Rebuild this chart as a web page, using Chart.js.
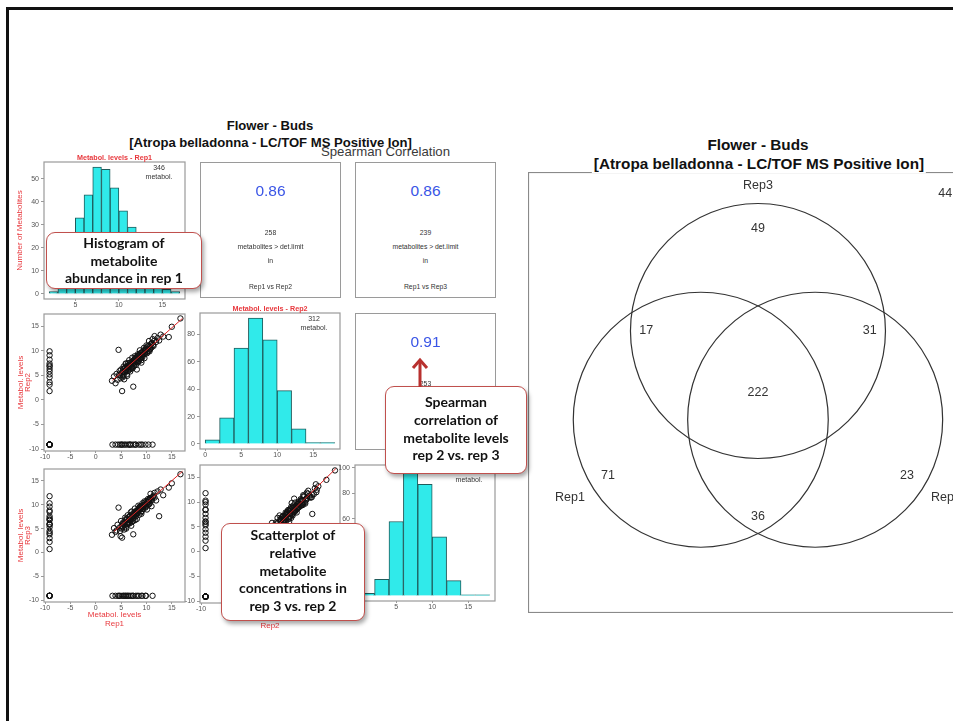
<!DOCTYPE html>
<html>
<head>
<meta charset="utf-8">
<script src="https://cdn.jsdelivr.net/npm/chart.js@4.4.1/dist/chart.umd.min.js"></script>
<style>
html,body{margin:0;padding:0;background:#fff;}
body{width:953px;height:721px;position:relative;overflow:hidden;font-family:"Liberation Sans",Arial,sans-serif;}
canvas{position:absolute;}
.frame{position:absolute;left:6px;top:7px;width:1200px;height:1000px;border-top:3px solid #111;border-left:3px solid #111;}
.ttl{position:absolute;white-space:nowrap;font-weight:bold;color:#111;transform:translate(-50%,-50%);}
.corr{position:absolute;box-sizing:border-box;border:1.2px solid #9a9a9a;}
.corr div{position:absolute;left:0;right:0;text-align:center;transform:translateY(-50%);font-size:6.8px;color:#333;}
.corr .rho{font-size:15.5px;color:#3a55e6;}
.call{position:absolute;box-sizing:border-box;border:1.6px solid #c0504d;border-radius:9px;background:#fff;
  box-shadow:2px 3px 4px rgba(0,0,0,.35);display:flex;align-items:center;justify-content:center;text-align:center;
  font-family:Lato,"Open Sans",sans-serif;font-weight:bold;font-size:14px;line-height:17.7px;color:#111;z-index:5;}
</style>
</head>
<body>
<div class="frame"></div>

<div class="ttl" style="left:270px;top:125px;font-size:13.1px;">Flower - Buds</div>
<div class="ttl" style="left:270.5px;top:141.7px;font-size:13.1px;">[Atropa belladonna - LC/TOF MS Positive Ion]</div>
<div class="ttl" style="left:385.5px;top:150.7px;font-size:13.2px;font-weight:normal;color:#3a3a3a;">Spearman Correlation</div>

<div class="ttl" style="left:758px;top:145px;font-size:15.3px;">Flower - Buds</div>
<div class="ttl" style="left:759px;top:164.3px;font-size:15.3px;background:#fff;padding:0 2px;z-index:2;">[Atropa belladonna - LC/TOF MS Positive Ion]</div>

<div class="call" style="left:45.7px;top:231.7px;width:156.5px;height:57.5px;">Histogram of<br>metabolite<br>abundance in rep 1</div>
<div class="call" style="left:385px;top:386px;width:142px;height:88px;padding-bottom:3px;">Spearman<br>correlation of<br>metabolite levels<br>rep 2 vs. rep 3</div>
<div class="call" style="left:220.7px;top:523px;width:144.5px;height:98px;padding-bottom:3px;">Scatterplot of<br>relative<br>metabolite<br>concentrations in<br>rep 3 vs. rep 2</div>
<svg style="position:absolute;left:410px;top:356px;z-index:6" width="20" height="32">
  <path d="M10,31 L10,6" stroke="#b8312f" stroke-width="3" fill="none"/>
  <path d="M3,12 L10,4 L17,12" stroke="#b8312f" stroke-width="3" fill="none"/>
</svg>

<script>
// ---- data ----
const repNames = ['Rep1', 'Rep2', 'Rep3'];

// histograms: lower bin edges and counts
const binStarts1 = [2, 3, 4, 5, 6, 7, 8, 9, 10, 11, 12, 13, 14, 15, 16];
const binCounts1 = [1, 3, 13, 33, 43, 55, 54, 46, 36, 29, 17, 9, 4, 2, 1];
const binStarts2 = [0, 2, 4, 6, 8, 10, 12, 14, 16];
const binCounts2 = [3, 19, 70, 92, 76, 39, 11, 1, 1];
const binStarts3 = [0, 2, 4, 6, 8, 10, 12, 14, 16];
const binCounts3 = [2, 13, 58, 98, 87, 46, 12, 1, 1];
const histTotals = [346, 312, 318];

// spearman panels
const corrPairs = ['Rep1 vs Rep2', 'Rep1 vs Rep3', 'Rep2 vs Rep3'];
const corrRho = [0.86, 0.86, 0.91];
const corrN = [258, 239, 253];

// metabolite levels [rep1, rep2, rep3], null = below detection limit
const metaboliteLevels = [
  [3.2,3.9,3.7],[3.6,4.8,5.1],[3.9,3.4,4.3],[4.1,5.3,4.6],[4.3,4.1,5.8],[4.5,10.2,9.4],[4.7,5.9,5.2],[4.9,4.4,3.4],
  [5.0,6.2,6.6],[5.2,1.8,3.1],[5.3,5.0,5.5],[5.5,6.8,6.1],[5.6,4.2,4.8],[5.8,5.6,7.3],[5.9,7.4,6.9],[6.0,6.1,5.0],
  [6.2,4.9,5.9],[6.3,7.0,7.8],[6.5,6.4,6.2],[6.6,8.1,7.5],[6.8,5.8,6.6],[6.9,7.3,8.4],[7.0,6.6,5.6],[7.2,8.6,8.0],
  [7.3,7.7,7.1],[7.4,2.7,3.8],[7.5,6.9,7.6],[7.7,8.9,9.2],[7.8,7.9,6.8],[8.0,8.4,8.7],[8.1,6.2,7.0],[8.3,9.3,8.9],
  [8.4,8.0,9.8],[8.6,9.0,7.9],[8.7,10.1,9.6],[8.9,8.7,8.4],[9.0,7.6,8.1],[9.2,9.8,10.3],[9.3,9.2,9.1],[9.5,10.6,9.9],
  [9.6,8.5,10.7],[9.8,10.0,9.4],[10.0,11.1,10.8],[10.1,9.5,9.0],[10.3,10.4,11.2],[10.5,12.0,11.0],[10.6,9.9,10.2],
  [10.8,11.3,12.3],[11.0,10.7,9.7],[11.2,12.4,11.6],[11.4,11.0,11.9],[11.6,13.0,12.5],[11.9,11.8,10.9],[12.2,12.6,12.8],
  [12.5,12.1,7.6],[12.8,13.3,13.2],[13.3,12.9,12.0],[14.4,12.8,13.6],[15.0,14.9,14.5],[16.7,16.6,16.4],
  [5.4,5.7,6.3],[5.7,6.5,5.7],[6.1,5.2,6.8],[6.4,7.5,6.0],[6.7,6.9,7.4],[7.1,7.8,8.6],[7.6,8.2,7.3],[7.9,7.1,8.0],
  [8.2,8.8,8.3],[8.5,7.9,9.0],[8.8,9.5,9.7],[9.1,8.9,8.7],[9.4,9.9,9.3],[9.7,9.4,10.0],[10.2,10.9,10.5],[10.7,10.3,11.4],
  [6.9,6.3,7.0],[7.4,7.5,6.6],[8.0,8.6,8.2],[5.9,6.0,5.3],
  [5.1,5.5,5.0],[5.4,6.3,6.0],[5.8,6.6,6.4],[6.1,6.7,7.1],[6.3,5.9,6.4],[6.6,7.2,6.8],[6.8,7.6,7.7],[7.0,7.0,7.2],
  [7.2,6.8,7.9],[7.4,8.0,7.6],[7.6,7.4,8.3],[7.8,8.5,8.5],[8.0,7.7,7.7],[8.2,8.2,8.9],[8.4,9.1,8.6],[8.6,8.3,9.3],
  [8.8,8.6,9.0],[9.0,9.6,9.4],[9.2,8.7,9.9],[9.4,9.3,9.6],[9.6,10.2,10.4],[9.8,9.7,10.1],[10.0,10.3,9.8],[10.2,9.8,10.6],
  [10.4,11.0,10.9],[10.6,10.8,10.3],[10.8,10.5,11.1],[11.0,11.5,11.3],[11.3,11.2,11.7],[11.6,12.1,11.5],
  [4.8,5.0,4.5],[5.3,4.6,5.3],[6.5,6.0,6.9],[7.1,6.4,6.4],[7.7,8.3,8.0],[8.3,7.6,8.3],[9.1,9.2,9.6],[9.9,10.1,9.6],
  [10.4,10.0,10.5],[11.1,11.6,11.0],[6.2,6.6,6.1],[8.7,9.3,9.1],
  // rep1 & rep2 only
  [4.6,5.1,null],[5.5,4.9,null],[6.4,6.9,null],[7.3,6.5,null],[8.2,8.9,null],[9.0,8.1,null],[9.9,10.5,null],[6.0,7.4,null],
  // rep1 & rep3 only
  [5.1,null,5.6],[6.7,null,6.1],[7.8,null,8.4],[8.9,null,9.5],[10.4,null,10.0],
  // rep2 & rep3 only
  [null,3.6,4.1],[null,5.2,5.8],[null,6.3,7.2],[null,7.4,6.9],[null,8.2,8.8],[null,9.1,9.6],[null,6.8,5.9],
  // rep1 only
  [3.3,null,null],[3.9,null,null],[4.4,null,null],[4.8,null,null],[5.2,null,null],[5.6,null,null],[5.9,null,null],[6.3,null,null],
  [6.7,null,null],[7.0,null,null],[7.4,null,null],[7.9,null,null],[8.5,null,null],[9.2,null,null],[9.8,null,null],[11.2,null,null],
  // rep2 only
  [null,1.8,null],[null,3.1,null],[null,4.6,null],[null,5.8,null],[null,7.0,null],[null,9.9,null],
  // rep3 only
  [null,null,0.7],[null,null,2.2],[null,null,3.0],[null,null,3.8],[null,null,4.5],[null,null,5.3],[null,null,6.0],
  [null,null,6.8],[null,null,7.6],[null,null,8.5],[null,null,10.3],[null,null,11.8]
];

// red fit lines [[x0,y0],[x1,y1]]
const fitRep1Rep2 = [[3.3, 4.0], [17.1, 16.6]];
const fitRep1Rep3 = [[3.6, 4.4], [17.1, 17.0]];
const fitRep2Rep3 = [[3.5, 3.6], [16.8, 16.8]];

// venn diagram
const vennCenterX = [-0.44, 0.44, 0];
const vennCenterY = [-0.23, -0.23, 0.48];
const vennRadius = 1.0;
const vennNameX = [-1.446, 1.446, 0];
const vennNameY = [-0.85, -0.85, 1.64];
const vennCounts = [71, 23, 49, 36, 17, 31, 222, 44];
const vennCountX = [-1.154, 1.146, 0, 0, -0.86, 0.86, 0, 1.44];
const vennCountY = [-0.68, -0.68, 1.30, -1.008, 0.48, 0.48, -0.016, 1.576];

// ---- drawing ----
const FONT = '"Liberation Sans", Arial, sans-serif';
const RED = '#e8383d';
const ND_POS = -9.1;   // plotting position for "not detected"
const M = 12;          // spare margin above/right of each panel

Chart.defaults.font.family = FONT;
Chart.defaults.animation = false;
Chart.defaults.responsive = false;
Chart.defaults.events = [];
Chart.defaults.plugins.legend.display = false;
Chart.defaults.plugins.tooltip.enabled = false;

const deco = {
  id: 'deco',
  afterDraw(chart, args, o) {
    const { ctx, chartArea: a } = chart;
    ctx.save();
    ctx.strokeStyle = '#9a9a9a';
    ctx.lineWidth = 1.2;
    ctx.strokeRect(a.left, a.top, a.right - a.left, a.bottom - a.top);
    ctx.textAlign = 'center';
    ctx.textBaseline = 'middle';
    if (o.title) {
      ctx.fillStyle = RED;
      ctx.font = 'bold 7.2px ' + FONT;
      ctx.fillText(o.title, (a.left + a.right) / 2, a.top - 4);
    }
    if (o.note) {
      ctx.fillStyle = '#333';
      ctx.font = '7px ' + FONT;
      o.note.forEach((t, i) => ctx.fillText(t, a.right - 26, a.top + 6 + i * 9));
    }
    ctx.restore();
  }
};

function makeCanvas(box, ax) {
  const c = document.createElement('canvas');
  c.width = ax.l + (box[2] - box[0]) + M;
  c.height = M + (box[3] - box[1]) + ax.b;
  c.style.left = (box[0] - ax.l) + 'px';
  c.style.top = (box[1] - M) + 'px';
  document.body.appendChild(c);
  return c;
}

function scales(xr, yr, xt, yt, ax, xTitle, yTitle, yTitlePad) {
  const tickFont = { family: FONT, size: 7 };
  const titleFont = { family: FONT, size: 8, lineHeight: 1.1 };
  return {
    x: {
      type: 'linear', min: xr[0], max: xr[1], offset: false,
      afterBuildTicks: s => { s.ticks = xt.map(v => ({ value: v })); },
      afterFit: s => { s.height = ax.b; },
      grid: { display: true, drawOnChartArea: false, drawTicks: true, tickLength: 2, color: '#999', offset: false },
      border: { display: false },
      ticks: { font: tickFont, color: '#555', padding: 0, maxRotation: 0, autoSkip: false },
      title: xTitle ? { display: true, text: xTitle, color: RED, font: titleFont, padding: 0 } : { display: false }
    },
    y: {
      type: 'linear', min: yr[0], max: yr[1],
      afterBuildTicks: s => { s.ticks = yt.map(v => ({ value: v })); },
      afterFit: s => { s.width = ax.l; },
      grid: { display: true, drawOnChartArea: false, drawTicks: true, tickLength: 3, color: '#999' },
      border: { display: false },
      ticks: { font: tickFont, color: '#555', padding: 2, autoSkip: false },
      title: yTitle ? { display: true, text: yTitle, color: RED, font: { family: FONT, size: 8, lineHeight: 0.96 }, padding: { top: yTitlePad } } : { display: false }
    }
  };
}

function histPanel(box, ax, starts, counts, binW, xr, yr, xt, yt, title, total, yTitle) {
  new Chart(makeCanvas(box, ax), {
    type: 'bar',
    data: {
      datasets: [{
        data: starts.map((s, i) => ({ x: s + binW / 2, y: counts[i] })),
        backgroundColor: '#30eaea', borderColor: '#1f5c5c', borderWidth: 1,
        barPercentage: 1, categoryPercentage: 1
      }]
    },
    options: {
      layout: { padding: { top: M, right: M, left: 0, bottom: 0 } },
      scales: scales(xr, yr, xt, yt, ax, null, yTitle, 12),
      plugins: { deco: { title: title, note: [String(total), 'metabol.'] } }
    },
    plugins: [deco]
  });
}

function scatterPanel(box, ax, xi, yi, fit, xTitle, yTitle) {
  const pts = metaboliteLevels.map(m => ({
    x: m[xi] === null ? ND_POS : m[xi],
    y: m[yi] === null ? ND_POS : m[yi]
  }));
  const ticks = [-10, -5, 0, 5, 10, 15];
  new Chart(makeCanvas(box, ax), {
    type: 'scatter',
    data: {
      datasets: [
        { type: 'line', data: fit.map(p => ({ x: p[0], y: p[1] })), borderColor: '#e02424', borderWidth: 1, pointRadius: 0, order: 0 },
        { data: pts, pointRadius: 2.7, borderWidth: 1, borderColor: '#111', backgroundColor: 'rgba(0,0,0,0)', order: 1 }
      ]
    },
    options: {
      layout: { padding: { top: M, right: M, left: 0, bottom: 0 }, autoPadding: false },
      scales: scales([-10.2, 17.6], [-10.4, 17.5], ticks, ticks, ax, xTitle, yTitle, 12.7),
      plugins: { deco: {} }
    },
    plugins: [deco]
  });
}

// row 1
histPanel([44, 162, 185, 299], { l: 40, b: 16 }, binStarts1, binCounts1, 1, [1.4, 17.6], [-2.2, 57.2],
  [5, 10, 15], [0, 10, 20, 30, 40, 50], 'Metabol. levels - ' + repNames[0], histTotals[0], 'Number of Metabolites');
// row 2
scatterPanel([44, 314, 185, 451], { l: 40, b: 16 }, 0, 1, fitRep1Rep2, null, ['Metabol. levels', repNames[1]]);
histPanel([200, 313, 340, 449], { l: 16, b: 16 }, binStarts2, binCounts2, 2, [-0.72, 18.72], [-3.7, 95.7],
  [0, 5, 10, 15], [0, 20, 40, 60, 80], 'Metabol. levels - ' + repNames[1], histTotals[1], null);
// row 3
scatterPanel([44, 469, 185, 602], { l: 40, b: 26 }, 0, 2, fitRep1Rep3, ['Metabol. levels', repNames[0]], ['Metabol. levels', repNames[2]]);
scatterPanel([200, 465, 340, 603], { l: 16, b: 27 }, 1, 2, fitRep2Rep3, ['Metabol. levels', repNames[1]], null);
histPanel([355, 465, 495, 601], { l: 16, b: 16 }, binStarts3, binCounts3, 2, [-0.72, 18.72], [-3.9, 102],
  [0, 5, 10, 15], [0, 20, 40, 60, 80, 100], 'Metabol. levels - ' + repNames[2], histTotals[2], null);

// spearman text panels
const corrBoxes = [[200, 162, 341, 298], [355, 162, 496, 298], [355, 313, 496, 450]];
corrPairs.forEach((pair, i) => {
  const b = corrBoxes[i];
  const d = document.createElement('div');
  d.className = 'corr';
  Object.assign(d.style, { left: b[0] + 'px', top: b[1] + 'px', width: (b[2] - b[0]) + 'px', height: (b[3] - b[1]) + 'px' });
  [[corrRho[i].toFixed(2), 28, 'rho'], [String(corrN[i]), 69], ['metabolites > det.limit', 83], ['in', 97], [pair, 123]]
    .forEach(([t, y, cls]) => {
      const s = document.createElement('div');
      if (cls) s.className = cls;
      s.style.top = y + 'px';
      s.textContent = t;
      d.appendChild(s);
    });
  document.body.appendChild(d);
});

// venn diagram
const VENN_X = [-1.769, 1.785], VENN_Y = [-1.776, 1.752];
const vennText = {
  id: 'vennText',
  afterDatasetsDraw(chart) {
    const { ctx, scales: { x, y } } = chart;
    ctx.save();
    ctx.font = '12.5px ' + FONT;
    ctx.fillStyle = '#333';
    ctx.textAlign = 'center';
    ctx.textBaseline = 'middle';
    repNames.forEach((s, i) => ctx.fillText(s, x.getPixelForValue(vennNameX[i]), y.getPixelForValue(vennNameY[i])));
    vennCounts.forEach((n, i) => ctx.fillText(String(n), x.getPixelForValue(vennCountX[i]), y.getPixelForValue(vennCountY[i])));
    ctx.strokeStyle = '#8a8a8a';
    ctx.lineWidth = 1.2;
    ctx.strokeRect(0.5, 0.5, chart.width - 1, chart.height - 1);
    ctx.restore();
  }
};
const vc = document.createElement('canvas');
vc.width = 462; vc.height = 441;
vc.style.left = '528px'; vc.style.top = '172px';
document.body.appendChild(vc);
// bubble radius is in pixels: convert the circle radius with the scale's pixels per unit
const pxPerUnit = (vc.width / (VENN_X[1] - VENN_X[0]) + vc.height / (VENN_Y[1] - VENN_Y[0])) / 2;
new Chart(vc, {
  type: 'bubble',
  data: {
    datasets: [{
      data: repNames.map((n, i) => ({ x: vennCenterX[i], y: vennCenterY[i], r: vennRadius * pxPerUnit })),
      backgroundColor: 'rgba(0,0,0,0)', borderColor: '#333', borderWidth: 1.2, clip: false
    }]
  },
  options: {
    layout: { padding: 0, autoPadding: false },
    scales: {
      x: { display: false, min: VENN_X[0], max: VENN_X[1] },
      y: { display: false, min: VENN_Y[0], max: VENN_Y[1] }
    }
  },
  plugins: [vennText]
});
</script>
</body>
</html>
